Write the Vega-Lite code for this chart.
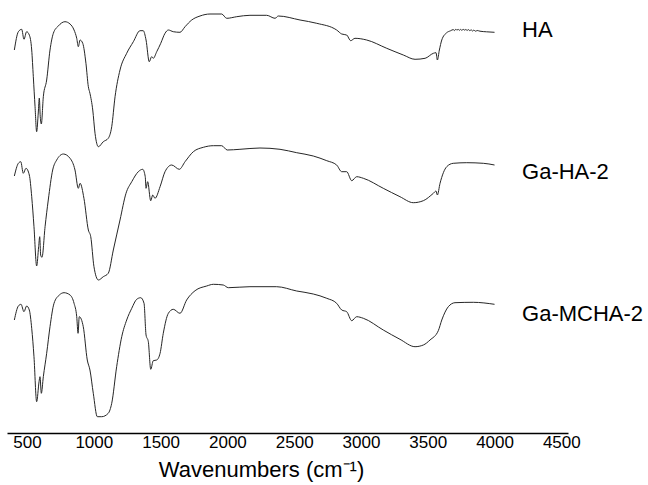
{
  "$schema": "https://vega.github.io/schema/vega-lite/v6.json",
  "width": 561,
  "height": 433,
  "autosize": "none",
  "padding": {"left": 7, "top": 0, "right": 80, "bottom": 52},
  "background": "white",
  "config": {"view": {"stroke": null}},
  "datasets": {
    "spectra": [
      {"s":"HA","w":405,"T":383},{"s":"HA","w":435,"T":401.3},{"s":"HA","w":460,"T":403.7},{"s":"HA","w":477,"T":393.7},{"s":"HA","w":497,"T":401.3},{"s":"HA","w":517,"T":398},{"s":"HA","w":535,"T":383},{"s":"HA","w":547,"T":356.3},{"s":"HA","w":560,"T":326.3},{"s":"HA","w":572,"T":301.3},{"s":"HA","w":584,"T":320},{"s":"HA","w":592,"T":335},{"s":"HA","w":599,"T":316.3},{"s":"HA","w":607,"T":309},{"s":"HA","w":622,"T":336.3},{"s":"HA","w":647,"T":353},{"s":"HA","w":672,"T":383},{"s":"HA","w":697,"T":399.7},{"s":"HA","w":734,"T":407},{"s":"HA","w":784,"T":411.3},{"s":"HA","w":822,"T":409},{"s":"HA","w":852,"T":403},{"s":"HA","w":872,"T":394.7},{"s":"HA","w":884,"T":386.3},{"s":"HA","w":897,"T":393},{"s":"HA","w":917,"T":389.7},{"s":"HA","w":941,"T":369.7},{"s":"HA","w":959,"T":346.3},{"s":"HA","w":971,"T":339.7},{"s":"HA","w":992,"T":323},{"s":"HA","w":1009,"T":299.7},{"s":"HA","w":1034,"T":286.3},{"s":"HA","w":1071,"T":291.3},{"s":"HA","w":1108,"T":294.7},{"s":"HA","w":1134,"T":306.3},{"s":"HA","w":1159,"T":336.3},{"s":"HA","w":1196,"T":363},{"s":"HA","w":1246,"T":379.7},{"s":"HA","w":1296,"T":391.3},{"s":"HA","w":1346,"T":402.3},{"s":"HA","w":1370,"T":402.3},{"s":"HA","w":1391,"T":393},{"s":"HA","w":1415,"T":371.3},{"s":"HA","w":1433,"T":376.3},{"s":"HA","w":1445,"T":374.7},{"s":"HA","w":1471,"T":381.3},{"s":"HA","w":1501,"T":389.7},{"s":"HA","w":1533,"T":399.7},{"s":"HA","w":1558,"T":403},{"s":"HA","w":1595,"T":401.3},{"s":"HA","w":1645,"T":400.7},{"s":"HA","w":1683,"T":406.3},{"s":"HA","w":1733,"T":413},{"s":"HA","w":1795,"T":417},{"s":"HA","w":1870,"T":419},{"s":"HA","w":1957,"T":419},{"s":"HA","w":1995,"T":414.7},{"s":"HA","w":2070,"T":416.3},{"s":"HA","w":2169,"T":417.7},{"s":"HA","w":2294,"T":417.7},{"s":"HA","w":2357,"T":414.7},{"s":"HA","w":2381,"T":417},{"s":"HA","w":2544,"T":413},{"s":"HA","w":2669,"T":409.7},{"s":"HA","w":2818,"T":403},{"s":"HA","w":2856,"T":399},{"s":"HA","w":2893,"T":398},{"s":"HA","w":2923,"T":392.3},{"s":"HA","w":2955,"T":394.7},{"s":"HA","w":3043,"T":393},{"s":"HA","w":3193,"T":384.7},{"s":"HA","w":3317,"T":378},{"s":"HA","w":3405,"T":373.7},{"s":"HA","w":3480,"T":374.7},{"s":"HA","w":3542,"T":379.7},{"s":"HA","w":3562,"T":380.3},{"s":"HA","w":3572,"T":373},{"s":"HA","w":3587,"T":383},{"s":"HA","w":3605,"T":393},{"s":"HA","w":3642,"T":400.3},{"s":"HA","w":3670,"T":402.2},{"s":"HA","w":3691,"T":403.4},{"s":"HA","w":3700,"T":402.4},{"s":"HA","w":3710,"T":403.9},{"s":"HA","w":3718,"T":402.8},{"s":"HA","w":3727,"T":403.8},{"s":"HA","w":3736,"T":402.6},{"s":"HA","w":3745,"T":403.6},{"s":"HA","w":3755,"T":402.7},{"s":"HA","w":3765,"T":403.7},{"s":"HA","w":3775,"T":402.9},{"s":"HA","w":3785,"T":403.5},{"s":"HA","w":3795,"T":402.6},{"s":"HA","w":3805,"T":403.4},{"s":"HA","w":3815,"T":402.3},{"s":"HA","w":3825,"T":403.2},{"s":"HA","w":3835,"T":402},{"s":"HA","w":3845,"T":402.9},{"s":"HA","w":3858,"T":401.8},{"s":"HA","w":3870,"T":402.5},{"s":"HA","w":3891,"T":401.8},{"s":"HA","w":3940,"T":401.2},{"s":"HA","w":4000,"T":400.7},
      {"s":"Ga-HA-2","w":405,"T":257},{"s":"Ga-HA-2","w":435,"T":269.7},{"s":"Ga-HA-2","w":453,"T":271.3},{"s":"Ga-HA-2","w":472,"T":259.7},{"s":"Ga-HA-2","w":492,"T":264.7},{"s":"Ga-HA-2","w":517,"T":258},{"s":"Ga-HA-2","w":535,"T":236.3},{"s":"Ga-HA-2","w":552,"T":206.3},{"s":"Ga-HA-2","w":572,"T":167},{"s":"Ga-HA-2","w":587,"T":186.3},{"s":"Ga-HA-2","w":595,"T":196.3},{"s":"Ga-HA-2","w":602,"T":178},{"s":"Ga-HA-2","w":612,"T":175.7},{"s":"Ga-HA-2","w":635,"T":206.3},{"s":"Ga-HA-2","w":659,"T":233},{"s":"Ga-HA-2","w":692,"T":263},{"s":"Ga-HA-2","w":722,"T":273},{"s":"Ga-HA-2","w":772,"T":279},{"s":"Ga-HA-2","w":822,"T":274.7},{"s":"Ga-HA-2","w":859,"T":263},{"s":"Ga-HA-2","w":884,"T":244.7},{"s":"Ga-HA-2","w":897,"T":249.7},{"s":"Ga-HA-2","w":926,"T":234.7},{"s":"Ga-HA-2","w":959,"T":203},{"s":"Ga-HA-2","w":977,"T":196.3},{"s":"Ga-HA-2","w":1001,"T":166.3},{"s":"Ga-HA-2","w":1034,"T":153},{"s":"Ga-HA-2","w":1071,"T":156.3},{"s":"Ga-HA-2","w":1108,"T":159.7},{"s":"Ga-HA-2","w":1146,"T":183},{"s":"Ga-HA-2","w":1196,"T":213},{"s":"Ga-HA-2","w":1241,"T":239.7},{"s":"Ga-HA-2","w":1284,"T":251.3},{"s":"Ga-HA-2","w":1333,"T":261.3},{"s":"Ga-HA-2","w":1366,"T":263.7},{"s":"Ga-HA-2","w":1385,"T":256.3},{"s":"Ga-HA-2","w":1391,"T":244.7},{"s":"Ga-HA-2","w":1403,"T":251.3},{"s":"Ga-HA-2","w":1426,"T":232.3},{"s":"Ga-HA-2","w":1441,"T":238},{"s":"Ga-HA-2","w":1458,"T":234.7},{"s":"Ga-HA-2","w":1496,"T":246.3},{"s":"Ga-HA-2","w":1533,"T":261.3},{"s":"Ga-HA-2","w":1583,"T":268},{"s":"Ga-HA-2","w":1640,"T":263.7},{"s":"Ga-HA-2","w":1683,"T":271.3},{"s":"Ga-HA-2","w":1745,"T":281.3},{"s":"Ga-HA-2","w":1820,"T":285.7},{"s":"Ga-HA-2","w":1895,"T":287.3},{"s":"Ga-HA-2","w":1957,"T":287.3},{"s":"Ga-HA-2","w":1999,"T":283},{"s":"Ga-HA-2","w":2094,"T":283.7},{"s":"Ga-HA-2","w":2244,"T":285},{"s":"Ga-HA-2","w":2394,"T":283.7},{"s":"Ga-HA-2","w":2519,"T":280.3},{"s":"Ga-HA-2","w":2643,"T":277},{"s":"Ga-HA-2","w":2744,"T":272.3},{"s":"Ga-HA-2","w":2818,"T":268},{"s":"Ga-HA-2","w":2856,"T":261.3},{"s":"Ga-HA-2","w":2893,"T":261.3},{"s":"Ga-HA-2","w":2931,"T":252.3},{"s":"Ga-HA-2","w":2968,"T":256.3},{"s":"Ga-HA-2","w":3018,"T":254.7},{"s":"Ga-HA-2","w":3167,"T":244.7},{"s":"Ga-HA-2","w":3292,"T":236.3},{"s":"Ga-HA-2","w":3392,"T":230.3},{"s":"Ga-HA-2","w":3467,"T":232.3},{"s":"Ga-HA-2","w":3542,"T":239.7},{"s":"Ga-HA-2","w":3562,"T":242},{"s":"Ga-HA-2","w":3572,"T":238},{"s":"Ga-HA-2","w":3592,"T":249.7},{"s":"Ga-HA-2","w":3642,"T":266.3},{"s":"Ga-HA-2","w":3691,"T":269.7},{"s":"Ga-HA-2","w":3792,"T":270.3},{"s":"Ga-HA-2","w":3916,"T":269.7},{"s":"Ga-HA-2","w":4000,"T":268},
      {"s":"Ga-MCHA-2","w":405,"T":113},{"s":"Ga-MCHA-2","w":435,"T":127},{"s":"Ga-MCHA-2","w":455,"T":128.7},{"s":"Ga-MCHA-2","w":477,"T":121.3},{"s":"Ga-MCHA-2","w":497,"T":127},{"s":"Ga-MCHA-2","w":517,"T":123},{"s":"Ga-MCHA-2","w":535,"T":104.7},{"s":"Ga-MCHA-2","w":552,"T":76.3},{"s":"Ga-MCHA-2","w":572,"T":31.3},{"s":"Ga-MCHA-2","w":590,"T":51.3},{"s":"Ga-MCHA-2","w":597,"T":56.3},{"s":"Ga-MCHA-2","w":607,"T":39.7},{"s":"Ga-MCHA-2","w":622,"T":56.3},{"s":"Ga-MCHA-2","w":647,"T":79.7},{"s":"Ga-MCHA-2","w":672,"T":106.3},{"s":"Ga-MCHA-2","w":702,"T":129.7},{"s":"Ga-MCHA-2","w":742,"T":138},{"s":"Ga-MCHA-2","w":777,"T":140.3},{"s":"Ga-MCHA-2","w":822,"T":138},{"s":"Ga-MCHA-2","w":852,"T":129.7},{"s":"Ga-MCHA-2","w":872,"T":116.3},{"s":"Ga-MCHA-2","w":882,"T":99.7},{"s":"Ga-MCHA-2","w":891,"T":116.3},{"s":"Ga-MCHA-2","w":921,"T":106.3},{"s":"Ga-MCHA-2","w":951,"T":73},{"s":"Ga-MCHA-2","w":971,"T":63},{"s":"Ga-MCHA-2","w":996,"T":39.7},{"s":"Ga-MCHA-2","w":1026,"T":16.3},{"s":"Ga-MCHA-2","w":1059,"T":16.3},{"s":"Ga-MCHA-2","w":1108,"T":19.7},{"s":"Ga-MCHA-2","w":1134,"T":29.7},{"s":"Ga-MCHA-2","w":1171,"T":66.3},{"s":"Ga-MCHA-2","w":1209,"T":96.3},{"s":"Ga-MCHA-2","w":1246,"T":113},{"s":"Ga-MCHA-2","w":1284,"T":124.7},{"s":"Ga-MCHA-2","w":1321,"T":133.7},{"s":"Ga-MCHA-2","w":1351,"T":135.3},{"s":"Ga-MCHA-2","w":1376,"T":129.7},{"s":"Ga-MCHA-2","w":1391,"T":98},{"s":"Ga-MCHA-2","w":1408,"T":91.3},{"s":"Ga-MCHA-2","w":1426,"T":63.7},{"s":"Ga-MCHA-2","w":1445,"T":72.3},{"s":"Ga-MCHA-2","w":1471,"T":73},{"s":"Ga-MCHA-2","w":1496,"T":79.7},{"s":"Ga-MCHA-2","w":1520,"T":99.7},{"s":"Ga-MCHA-2","w":1558,"T":119.7},{"s":"Ga-MCHA-2","w":1595,"T":123.7},{"s":"Ga-MCHA-2","w":1645,"T":119.7},{"s":"Ga-MCHA-2","w":1695,"T":133},{"s":"Ga-MCHA-2","w":1758,"T":142.3},{"s":"Ga-MCHA-2","w":1845,"T":147},{"s":"Ga-MCHA-2","w":1895,"T":148.7},{"s":"Ga-MCHA-2","w":1969,"T":148},{"s":"Ga-MCHA-2","w":2007,"T":145.3},{"s":"Ga-MCHA-2","w":2169,"T":146.3},{"s":"Ga-MCHA-2","w":2369,"T":146.3},{"s":"Ga-MCHA-2","w":2519,"T":142},{"s":"Ga-MCHA-2","w":2643,"T":139},{"s":"Ga-MCHA-2","w":2744,"T":134.7},{"s":"Ga-MCHA-2","w":2818,"T":129.7},{"s":"Ga-MCHA-2","w":2856,"T":123},{"s":"Ga-MCHA-2","w":2893,"T":121.3},{"s":"Ga-MCHA-2","w":2931,"T":112.3},{"s":"Ga-MCHA-2","w":2968,"T":116.3},{"s":"Ga-MCHA-2","w":3018,"T":114.7},{"s":"Ga-MCHA-2","w":3167,"T":103},{"s":"Ga-MCHA-2","w":3292,"T":93.7},{"s":"Ga-MCHA-2","w":3405,"T":86.3},{"s":"Ga-MCHA-2","w":3467,"T":88},{"s":"Ga-MCHA-2","w":3517,"T":93},{"s":"Ga-MCHA-2","w":3579,"T":102.3},{"s":"Ga-MCHA-2","w":3605,"T":113},{"s":"Ga-MCHA-2","w":3654,"T":126.3},{"s":"Ga-MCHA-2","w":3704,"T":130.3},{"s":"Ga-MCHA-2","w":3841,"T":130.7},{"s":"Ga-MCHA-2","w":4000,"T":128.7}
    ],
    "labels": [
      {"label":"HA","w":4206,"T":396},
      {"label":"Ga-HA-2","w":4206,"T":254},
      {"label":"Ga-MCHA-2","w":4206,"T":112}
    ]
  },
  "layer": [
    {
      "data": {"name": "spectra"},
      "mark": {"type": "line", "stroke": "#262626", "strokeWidth": 1, "interpolate": "monotone"},
      "encoding": {
        "x": {
          "field": "w", "type": "quantitative",
          "scale": {"domain": [350, 4550], "nice": false, "zero": false},
          "axis": {
            "values": [500, 1000, 1500, 2000, 2500, 3000, 3500, 4000, 4500],
            "format": "d",
            "grid": false,
            "ticks": false,
            "tickSize": 0,
            "domainColor": "#000000",
            "domainWidth": 1.6,
            "labelFont": "Liberation Sans",
            "labelFontSize": 17,
            "labelColor": "#000000",
            "labelPadding": 1,
            "labelFlush": false,
            "labelOverlap": false,
            "title": "Wavenumbers (cm⁻¹)",
            "titleFont": "Liberation Sans",
            "titleFontSize": 22,
            "titleFontWeight": "normal",
            "titleColor": "#000000",
            "titleX": 254,
            "titleY": 43,
            "titleAlign": "center",
            "titleBaseline": "alphabetic"
          }
        },
        "y": {
          "field": "T", "type": "quantitative",
          "scale": {"domain": [0, 433], "nice": false, "zero": false},
          "axis": null
        },
        "detail": {"field": "s", "type": "nominal"}
      }
    },
    {
      "data": {"name": "labels"},
      "mark": {"type": "text", "font": "Liberation Sans", "fontSize": 22, "align": "left", "baseline": "alphabetic", "color": "#000000"},
      "encoding": {
        "x": {"field": "w", "type": "quantitative"},
        "y": {"field": "T", "type": "quantitative"},
        "text": {"field": "label", "type": "nominal"}
      }
    }
  ]
}
